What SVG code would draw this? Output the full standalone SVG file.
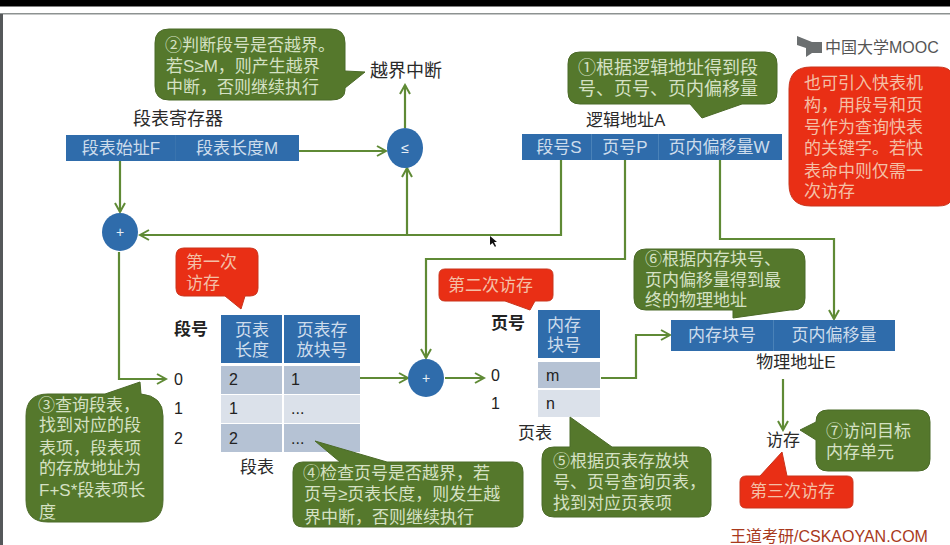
<svg xmlns="http://www.w3.org/2000/svg" width="950" height="545" viewBox="0 0 950 545">
<defs>
<marker id="ah" viewBox="0 0 12 12" refX="10" refY="6" markerWidth="12" markerHeight="12" markerUnits="userSpaceOnUse" orient="auto"><path d="M1 1 L10 6 L1 11" fill="none" stroke="#5f8a35" stroke-width="2"/></marker>
</defs>
<style>
text{font-family:"Liberation Sans","Noto Sans CJK SC",sans-serif;font-size:17px;fill:#2a2a2a}
.c{stroke:#5f8a35;stroke-width:2.2;fill:none}
.a{marker-end:url(#ah)}
.g{fill:#55782c;stroke:#4b6a28;stroke-width:1}
.r{fill:#e92f15;stroke:#c9341c;stroke-width:1}
.gt{fill:#d5e1c4}
.rt{fill:#f4bfa6}
.b{fill:#2f6cab}
.bt{fill:#cddcec;text-anchor:middle}
.m{text-anchor:middle}
.r1{fill:#b5c2d4}
.r2{fill:#dbe1ea}
.cell{fill:#222;font-size:16px}
.bold{font-weight:700;fill:#222}
.op{fill:#e6eef6;font-size:14px;text-anchor:middle}
</style>
<rect width="950" height="545" fill="#fff"/>
<rect width="950" height="6.5" fill="#000"/>
<rect y="13" width="950" height="1.5" fill="#8d9291"/>
<rect y="14" width="3" height="531" fill="#55585a"/>

<g id="connectors">
<path class="c a" d="M405 128V85"/>
<path class="c a" d="M299 151H386"/>
<path class="c a" d="M120 161V212"/>
<path class="c a" d="M561 160V235H140"/>
<path class="c a" d="M407 235V168"/>
<path class="c a" d="M119 252V379H166"/>
<path class="c a" d="M625 160V259H426V358"/>
<path class="c a" d="M720 160V239H834V319"/>
<path class="c a" d="M357 378H408"/>
<path class="c a" d="M445 378H484"/>
<path class="c a" d="M601 378H636V335H670"/>
<path class="c a" d="M783 379V430"/>
</g>

<g id="note2"><path class="g" d="M169 29H331Q345 29 345 43V71L365 72L345 88V90Q345 100 331 100H169Q155 100 155 86V43Q155 29 169 29Z"/>
<text class="gt" x="165" y="51">②判断段号是否越界。</text><text class="gt" x="166" y="72">若S≥M，则产生越界</text><text class="gt" x="166" y="93">中断，否则继续执行</text></g>
<g id="interrupt"><text x="370" y="77" style="font-size:18px">越界中断</text></g>
<g id="cmp"><ellipse cx="405" cy="148" rx="18" ry="20" class="b"/><text class="op" x="405" y="153">≤</text></g>

<g id="segreg"><text x="133" y="125" style="font-size:18px">段表寄存器</text>
<rect x="66" y="135" width="233" height="26" class="b"/><rect x="175" y="135" width="1" height="26" fill="#3a74ae"/>
<text class="bt" x="121" y="154">段表始址F</text><text class="bt" x="237" y="154">段表长度M</text></g>

<g id="adder1"><ellipse cx="120" cy="232" rx="18" ry="19" class="b"/><text class="op" x="120" y="237">+</text></g>

<g id="logaddr"><text x="586" y="126">逻辑地址A</text>
<rect x="522" y="134" width="260" height="26" class="b"/>
<rect x="591" y="134" width="1" height="26" fill="#4a82b8"/><rect x="658" y="134" width="1" height="26" fill="#4a82b8"/>
<text class="bt" x="559" y="153">段号S</text><text class="bt" x="625" y="153">页号P</text><text class="bt" x="719" y="153">页内偏移量W</text></g>

<g id="note1"><path class="g" d="M580 52H765Q777 52 777 64V92Q777 104 765 104H742L702 118L690 104H580Q568 104 568 92V64Q568 52 580 52Z"/>
<text class="gt" x="578" y="74" style="font-size:18px">①根据逻辑地址得到段</text><text class="gt" x="578" y="95" style="font-size:18px">号、页号、页内偏移量</text></g>

<g id="logo"><path d="M797 36L812 42H822V53H812L806 57L806 48L797 45Z" fill="#6b6f70"/>
<text x="825" y="53" style="font-size:16px;fill:#555">中国大学MOOC</text></g>

<g id="noteTlb"><path class="r" d="M811 67H938Q948 67 951 72V201Q948 206 938 206H811Q789 206 789 184V89Q789 67 811 67Z"/>
<text class="rt" x="804" y="89">也可引入快表机</text><text class="rt" x="804" y="111">构，用段号和页</text><text class="rt" x="804" y="133">号作为查询快表</text><text class="rt" x="804" y="154">的关键字。若快</text><text class="rt" x="804" y="177">表命中则仅需一</text><text class="rt" x="804" y="197">次访存</text></g>

<g id="first"><path class="r" d="M184 248H250Q258 248 258 256V288Q258 296 250 296H245L241 309L225 296H184Q176 296 176 288V256Q176 248 184 248Z"/>
<text class="rt" x="186" y="268">第一次</text><text class="rt" x="186" y="289">访存</text></g>

<g id="segtable"><text class="bold" x="174" y="335">段号</text>
<rect x="221" y="315" width="61" height="48" class="b"/><rect x="284" y="315" width="76" height="48" class="b"/>
<text class="bt" x="252" y="336">页表</text><text class="bt" x="252" y="356">长度</text><text class="bt" x="322" y="336">页表存</text><text class="bt" x="322" y="356">放块号</text>
<rect x="221" y="366" width="61" height="28" class="r1"/><rect x="284" y="366" width="76" height="28" class="r1"/>
<rect x="221" y="395" width="61" height="28" class="r2"/><rect x="284" y="395" width="76" height="28" class="r2"/>
<rect x="221" y="424" width="61" height="28" class="r1"/><rect x="284" y="424" width="76" height="28" class="r1"/>
<text class="cell" x="174" y="385">0</text><text class="cell" x="174" y="414">1</text><text class="cell" x="174" y="444">2</text>
<text class="cell" x="229" y="385">2</text><text class="cell" x="229" y="414">1</text><text class="cell" x="229" y="444">2</text>
<text class="cell" x="291" y="385">1</text><text class="cell" x="291" y="414">...</text><text class="cell" x="291" y="444">...</text>
<text class="m" x="257" y="473">段表</text></g>

<g id="note3"><path class="g" d="M48 394H105L140 382L141 394Q163 396 163 416V500Q163 522 141 522H48Q26 522 26 500V416Q26 394 48 394Z"/>
<text class="gt" x="38" y="411">③查询段表，</text><text class="gt" x="39" y="431">找到对应的段</text><text class="gt" x="39" y="454">表项，段表项</text><text class="gt" x="39" y="474">的存放地址为</text><text class="gt" x="39" y="496">F+S*段表项长</text><text class="gt" x="39" y="518">度</text></g>

<g id="adder2"><ellipse cx="426" cy="378" rx="18" ry="19" class="b"/><text class="op" x="426" y="383">+</text></g>

<g id="note4"><path class="g" d="M303 462H340L315 441L387 462H513Q523 462 523 472V517Q523 527 513 527H303Q293 527 293 517V472Q293 462 303 462Z"/>
<text class="gt" x="303" y="479">④检查页号是否越界，若</text><text class="gt" x="304" y="500">页号≥页表长度，则发生越</text><text class="gt" x="304" y="523">界中断，否则继续执行</text></g>

<g id="second"><path class="r" d="M445 269H547Q553 269 553 275V295Q553 301 547 301H535L530 310L505 301H445Q439 301 439 295V275Q439 269 445 269Z"/>
<text class="rt" x="448" y="291">第二次访存</text></g>

<g id="pagetable"><text class="bold" x="491" y="329">页号</text>
<rect x="538" y="310" width="62" height="48" class="b"/>
<text class="bt" x="564" y="331">内存</text><text class="bt" x="564" y="351">块号</text>
<rect x="538" y="362" width="62" height="26" class="r1"/><rect x="538" y="390" width="62" height="27" class="r2"/>
<text class="cell" x="491" y="381">0</text><text class="cell" x="491" y="409">1</text>
<text class="cell" x="546" y="381">m</text><text class="cell" x="546" y="409">n</text>
<text x="518" y="439">页表</text></g>

<g id="note5"><path class="g" d="M554 447H570V417L612 447H699Q711 447 711 459V505Q711 517 699 517H554Q542 517 542 505V459Q542 447 554 447Z"/>
<text class="gt" x="553" y="467">⑤根据页表存放块</text><text class="gt" x="553" y="488">号、页号查询页表，</text><text class="gt" x="553" y="509">找到对应页表项</text></g>

<g id="note6"><path class="g" d="M646 249H793Q805 249 805 261V298Q805 310 793 310H790L733 318V310H646Q634 310 634 298V261Q634 249 646 249Z"/>
<text class="gt" x="645" y="265">⑥根据内存块号、</text><text class="gt" x="645" y="286">页内偏移量得到最</text><text class="gt" x="645" y="306">终的物理地址</text></g>

<g id="physaddr"><rect x="671" y="320" width="224" height="31" class="b"/><rect x="773" y="320" width="1" height="31" fill="#4a82b8"/>
<text class="bt" x="722" y="341">内存块号</text><text class="bt" x="834" y="341">页内偏移量</text>
<text class="m" x="796" y="368">物理地址E</text></g>

<g id="access"><text class="m" x="783" y="446">访存</text></g>

<g id="note7"><path class="g" d="M828 410H918Q930 410 930 422V459Q930 471 918 471H828Q816 471 816 459V440L800 430L816 422Q816 410 828 410Z"/>
<text class="gt" x="826" y="437">⑦访问目标</text><text class="gt" x="826" y="458">内存单元</text></g>

<g id="third"><path class="r" d="M746 476H760L782 452L787 476H847Q853 476 853 482V502Q853 508 847 508H746Q740 508 740 502V482Q740 476 746 476Z"/>
<text class="rt" x="750" y="497">第三次访存</text></g>

<path id="cursor" d="M490 236L490 245L492.500 243L495 247L496 246L494 242L497 242Z" fill="#111"/>
<text id="footer" x="730" y="542" style="fill:#a8391c;font-size:16px">王道考研/CSKAOYAN.COM</text>
</svg>
